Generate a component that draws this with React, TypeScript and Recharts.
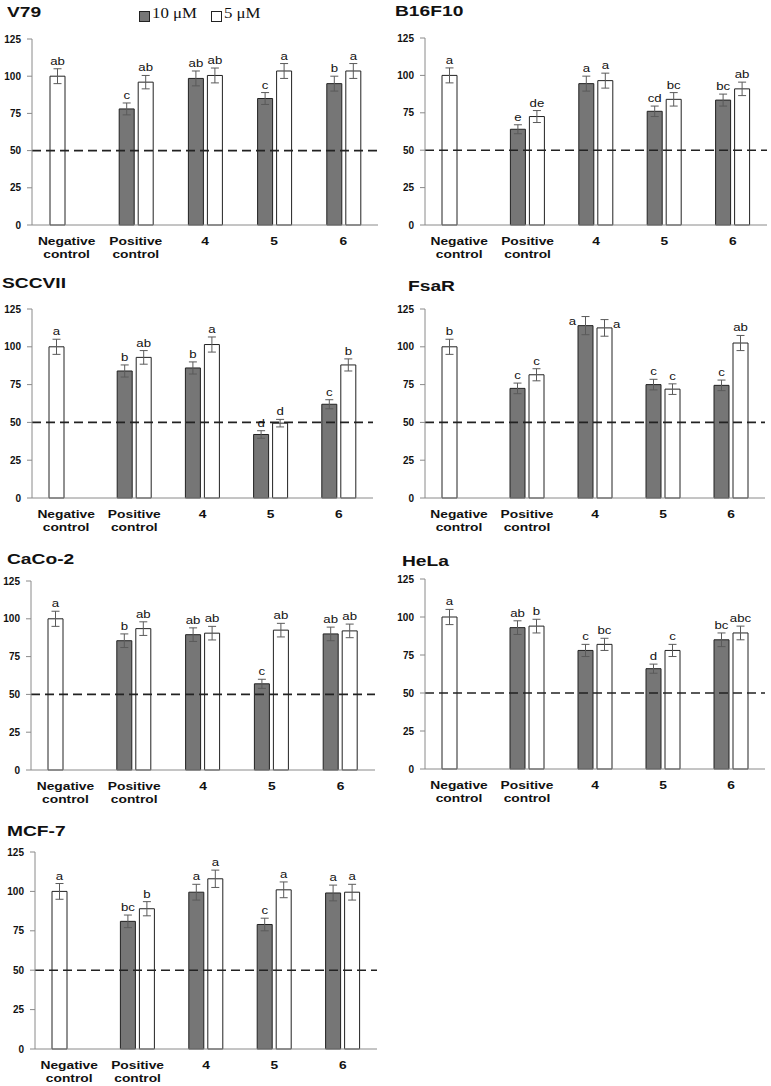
import React from 'react';
import { BarChart, Bar, XAxis, YAxis, ErrorBar, LabelList, Cell, ReferenceLine, ReferenceArea } from 'recharts';

const categories = ['Negative control', 'Positive control', '4', '5', '6'];
const yTicks = [0, 25, 50, 75, 100, 125];
const boundaryTicks = [0, 1, 2, 3, 4, 5];
const seriesNames = ['10 \u03bcM', '5 \u03bcM'];

// V79
const v79Ten = [100, 78, 98.5, 85, 95];
const v79Five = [null, 96, 100.5, 103.5, 103.5];
const v79TenErr = [5, 4, 5, 4, 5];
const v79FiveErr = [null, 4.5, 5, 5, 5];
const v79TenSig = ['ab', 'c', 'ab', 'c', 'b'];
const v79FiveSig = ['', 'ab', 'ab', 'a', 'a'];

// B16F10
const b16Ten = [100, 64, 94.5, 76, 83.5];
const b16Five = [null, 72.5, 96.5, 84, 91];
const b16TenErr = [5, 3, 5, 3.5, 4];
const b16FiveErr = [null, 4, 5, 4.5, 4.5];
const b16TenSig = ['a', 'e', 'a', 'cd', 'bc'];
const b16FiveSig = ['', 'de', 'a', 'bc', 'ab'];

// SCCVII
const sccTen = [100, 84, 86, 42, 62];
const sccFive = [null, 93, 101.5, 49.5, 88];
const sccTenErr = [5, 4, 4, 2.5, 3];
const sccFiveErr = [null, 4.5, 5, 2.5, 4];
const sccTenSig = ['a', 'b', 'b', 'd', 'c'];
const sccFiveSig = ['', 'ab', 'a', 'd', 'b'];

// FsaR
const fsaTen = [100, 72.5, 114, 75, 74.5];
const fsaFive = [null, 81.5, 112.5, 72, 102.5];
const fsaTenErr = [5, 3.5, 6, 3.5, 3.5];
const fsaFiveErr = [null, 4, 5.5, 3.5, 5];
const fsaTenSig = ['b', 'c', 'a', 'c', 'c'];
const fsaFiveSig = ['', 'c', 'a', 'c', 'ab'];

// CaCo-2
const cacoTen = [100, 85.5, 89.5, 57, 90];
const cacoFive = [null, 93.5, 90.5, 92.5, 92];
const cacoTenErr = [5, 4.5, 4.5, 3, 4.5];
const cacoFiveErr = [null, 4.5, 4.5, 4.5, 4.5];
const cacoTenSig = ['a', 'b', 'ab', 'c', 'ab'];
const cacoFiveSig = ['', 'ab', 'ab', 'ab', 'ab'];

// HeLa
const helaTen = [100, 93, 78, 66, 85];
const helaFive = [null, 94, 82, 78, 89.5];
const helaTenErr = [5, 4.5, 4, 3, 4.5];
const helaFiveErr = [null, 4.5, 4, 4, 4.5];
const helaTenSig = ['a', 'ab', 'c', 'd', 'bc'];
const helaFiveSig = ['', 'b', 'bc', 'c', 'abc'];

// MCF-7
const mcfTen = [100, 81, 99.5, 79, 99];
const mcfFive = [null, 89, 108, 101, 99.5];
const mcfTenErr = [5, 4, 5, 4, 5];
const mcfFiveErr = [null, 4.5, 5.5, 5, 5];
const mcfTenSig = ['a', 'bc', 'a', 'c', 'a'];
const mcfFiveSig = ['', 'b', 'a', 'a', 'a'];

const panels = [
  { title: 'V79', ten: v79Ten, five: v79Five, tenErr: v79TenErr, fiveErr: v79FiveErr, tenSig: v79TenSig, fiveSig: v79FiveSig },
  { title: 'B16F10', ten: b16Ten, five: b16Five, tenErr: b16TenErr, fiveErr: b16FiveErr, tenSig: b16TenSig, fiveSig: b16FiveSig },
  { title: 'SCCVII', ten: sccTen, five: sccFive, tenErr: sccTenErr, fiveErr: sccFiveErr, tenSig: sccTenSig, fiveSig: sccFiveSig },
  { title: 'FsaR', ten: fsaTen, five: fsaFive, tenErr: fsaTenErr, fiveErr: fsaFiveErr, tenSig: fsaTenSig, fiveSig: fsaFiveSig },
  { title: 'CaCo-2', ten: cacoTen, five: cacoFive, tenErr: cacoTenErr, fiveErr: cacoFiveErr, tenSig: cacoTenSig, fiveSig: cacoFiveSig },
  { title: 'HeLa', ten: helaTen, five: helaFive, tenErr: helaTenErr, fiveErr: helaFiveErr, tenSig: helaTenSig, fiveSig: helaFiveSig },
  { title: 'MCF-7', ten: mcfTen, five: mcfFive, tenErr: mcfTenErr, fiveErr: mcfFiveErr, tenSig: mcfTenSig, fiveSig: mcfFiveSig },
];

// layout: plot area position/size on the page, title position
const layouts = [
  { x: 32, y: 39, w: 346, h: 186, tx: 7, ty: 6 },
  { x: 425, y: 38, w: 342, h: 187, tx: 395, ty: 5 },
  { x: 32, y: 309, w: 341, h: 189, tx: 2, ty: 277 },
  { x: 425, y: 309, w: 340, h: 189, tx: 408, ty: 280 },
  { x: 31, y: 581, w: 344, h: 189, tx: 7, ty: 553 },
  { x: 425, y: 579, w: 340, h: 190, tx: 402, ty: 555 },
  { x: 35, y: 852, w: 342, h: 197, tx: 7, ty: 825 },
];

const SANS = '"Liberation Sans", Arial, sans-serif';
const SERIF = '"Liberation Serif", "Times New Roman", serif';
const GRAY = '#767676';
const AXIS = '#8a8a8a';

const CatTick = (props: any) => {
  const { x, y, payload } = props;
  const words = String(payload.value).split(' ');
  return (
    <g transform={`translate(${x},${y})`}>
      <text textAnchor="middle" fontFamily={SANS} fontWeight="bold" fontSize={11.5} fill="#111" transform="scale(1.2,1)">
        {words.map((w, i) => (
          <tspan key={i} x={0} dy={i === 0 ? 12 : 13}>{w}</tspan>
        ))}
      </text>
    </g>
  );
};

function letterContent(data: any[], vKey: string, eKey: string, lKey: string, side: 'left' | 'right') {
  // LabelList indexes count only the bars that are drawn (non-null values)
  const drawn = data.map((d, i) => (d[vKey] != null ? i : -1)).filter((i) => i >= 0);
  return (props: any) => {
    const d = data[drawn[props.index]];
    if (!d || d[vKey] == null || !d[lKey]) return null;
    const vb = props.viewBox && props.viewBox.width != null ? props.viewBox : props;
    const x = Number(vb.x), y = Number(vb.y), w = Number(vb.width), h = Number(vb.height);
    if (!isFinite(x) || !isFinite(y) || !h) return null;
    const ppu = h / d[vKey];
    const capTop = y - (d[eKey] || 0) * ppu;
    const high = d[vKey] + (d[eKey] || 0) > 115;
    let tx = x + w / 2;
    let ty = capTop - 4;
    let anchor: any = 'middle';
    if (high) {
      ty = capTop + 8;
      if (side === 'left') { tx = x - 2; anchor = 'end'; } else { tx = x + w + 1; anchor = 'start'; }
    }
    return (
      <text transform={`translate(${tx},${ty}) scale(1.2,1)`} textAnchor={anchor} fontFamily={SANS} fontSize={11} fill="#111">
        {d[lKey]}
      </text>
    );
  };
}

function Panel({ p, l }: { p: any; l: any }) {
  const data = categories.map((c, i) => ({
    cat: c,
    ten: p.ten[i],
    five: p.five[i],
    tenErr: p.tenErr[i],
    fiveErr: p.fiveErr[i],
    tenSig: p.tenSig[i],
    fiveSig: p.fiveSig[i],
  }));
  const ML = 40, MT = 20, MR = 6, XH = 36;
  const W = ML + l.w + MR;
  const H = MT + l.h + XH;
  return (
    <div style={{ position: 'absolute', left: l.x - ML, top: l.y - MT }}>
      <BarChart width={W} height={H} data={data} margin={{ top: MT, right: MR, left: 0, bottom: 0 }} barSize={15} barGap={4}>
        <XAxis xAxisId="b" type="number" domain={[0, 5]} ticks={boundaryTicks} height={0} axisLine={false} tick={false} tickSize={5} tickLine={{ stroke: AXIS }} allowDataOverflow />
        <XAxis dataKey="cat" height={XH} tickLine={false} axisLine={{ stroke: AXIS }} tick={<CatTick />} interval={0} />
        <YAxis width={ML} domain={[0, 125]} ticks={yTicks} interval={0} axisLine={{ stroke: AXIS }} tickLine={{ stroke: AXIS }} tickSize={5} tickMargin={6}
          tick={{ fontFamily: SANS, fontWeight: 'bold', fontSize: 10, fill: '#111' }} />
        <ReferenceArea xAxisId="b" x1={0} x2={5} y1={0} y2={125} fill="none" stroke={AXIS} strokeWidth={1} />
        <ReferenceLine y={50} stroke="#222" strokeDasharray="9 5" strokeWidth={1.6} />
        <Bar dataKey="ten" name={seriesNames[0]} stroke="#222" strokeWidth={1} isAnimationActive={false}>
          {data.map((d, i) => (
            <Cell key={i} fill={i === 0 ? '#ffffff' : GRAY} />
          ))}
          <ErrorBar dataKey="tenErr" width={4} stroke="#5a5a5a" strokeWidth={1} />
          <LabelList dataKey="tenSig" content={letterContent(data, 'ten', 'tenErr', 'tenSig', 'left')} />
        </Bar>
        <Bar dataKey="five" name={seriesNames[1]} fill="#ffffff" stroke="#222" strokeWidth={1} isAnimationActive={false}>
          <ErrorBar dataKey="fiveErr" width={4} stroke="#5a5a5a" strokeWidth={1} />
          <LabelList dataKey="fiveSig" content={letterContent(data, 'five', 'fiveErr', 'fiveSig', 'right')} />
        </Bar>
      </BarChart>
    </div>
  );
}

function Title({ text, x, y }: { text: string; x: number; y: number }) {
  return (
    <div style={{ position: 'absolute', left: x, top: y - 2, fontFamily: SANS, fontWeight: 'bold', fontSize: 15, lineHeight: 1, color: '#111', transform: 'scaleX(1.28)', transformOrigin: 'left top', whiteSpace: 'nowrap' }}>
      {text}
    </div>
  );
}

function LegendBlock() {
  const box = (left: number, fill: string) => (
    <div style={{ position: 'absolute', left, top: 11, width: 9, height: 9, background: fill, border: '1px solid #222' }} />
  );
  const label = (left: number, text: string) => (
    <div style={{ position: 'absolute', left, top: 7, fontFamily: SERIF, fontSize: 14, lineHeight: 1, color: '#111', transform: 'scaleX(1.2)', transformOrigin: 'left top', whiteSpace: 'nowrap' }}>
      {text}
    </div>
  );
  return (
    <>
      {box(139, GRAY)}
      {label(152, seriesNames[0])}
      {box(211, '#ffffff')}
      {label(224, seriesNames[1])}
    </>
  );
}

export default function App() {
  return (
    <div style={{ position: 'absolute', left: 0, top: 0, width: 771, height: 1086, background: '#fff', overflow: 'hidden' }}>
      {panels.map((p, i) => (
        <React.Fragment key={p.title}>
          <Title text={p.title} x={layouts[i].tx} y={layouts[i].ty} />
          <Panel p={p} l={layouts[i]} />
        </React.Fragment>
      ))}
      <LegendBlock />
    </div>
  );
}
